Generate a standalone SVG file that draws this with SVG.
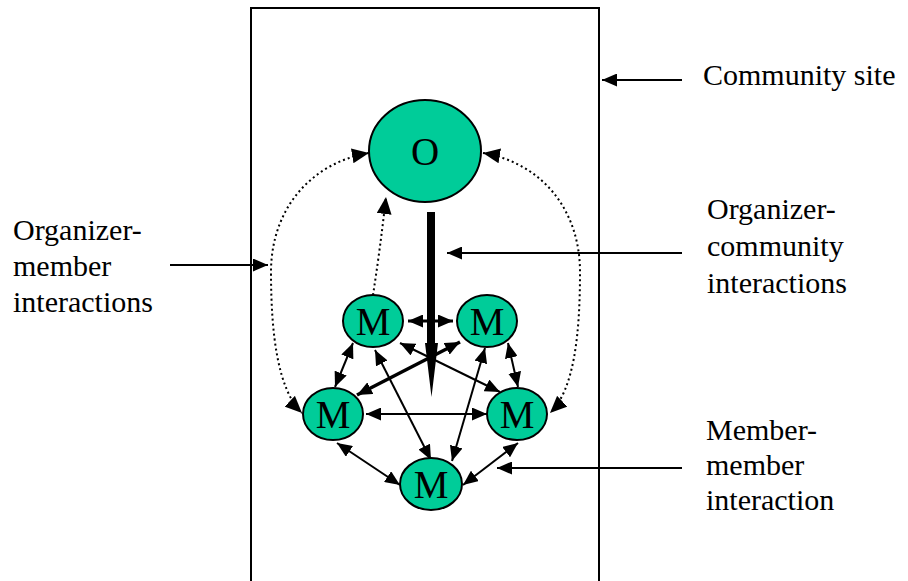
<svg xmlns="http://www.w3.org/2000/svg" width="908" height="581" viewBox="0 0 908 581">
<style>
.lbl{font-family:"Liberation Serif","Times New Roman",serif;font-size:30px;fill:#000}
.nt{font-family:"Liberation Serif","Times New Roman",serif;font-size:39px;fill:#000;text-anchor:middle}
.node{fill:#00CC99;stroke:#000;stroke-width:2}
.ln{stroke:#000;stroke-width:2;fill:none}
.dot{stroke:#000;stroke-width:2;fill:none;stroke-dasharray:2 3}
.dbl{marker-start:url(#ah);marker-end:url(#ah)}
</style>
<defs>
<marker id="ah" markerUnits="userSpaceOnUse" markerWidth="15" markerHeight="13" viewBox="0 0 15 13" refX="15" refY="6.5" orient="auto-start-reverse"><path d="M0,0 L15,6.5 L0,13 z" fill="#000"/></marker>
<marker id="dh" markerUnits="userSpaceOnUse" markerWidth="17" markerHeight="15" viewBox="0 0 17 15" refX="17" refY="7.5" orient="auto-start-reverse"><path d="M0,0 L17,7.5 L0,15 z" fill="#000"/></marker>
</defs>
<rect x="251" y="8" width="348" height="600" fill="none" stroke="#000" stroke-width="2"/>
<g id="connectors">
<path class="dot" d="M369,153 C310,163 271,210 271,272 C271,335 278,390 302,413" marker-start="url(#dh)" marker-end="url(#dh)"/>
<path class="dot" d="M483,153 C542,163 580,210 580,272 C580,335 574,390 550,413" marker-start="url(#dh)" marker-end="url(#dh)"/>
<path class="dot" d="M373,295 Q380,250 386,197" marker-end="url(#dh)"/>
<line class="ln dbl" x1="408" y1="321" x2="453" y2="321" style="stroke-width:3"/>
<line class="ln dbl" x1="353" y1="343" x2="335" y2="387"/>
<line class="ln dbl" x1="508" y1="343" x2="518" y2="387"/>
<line class="ln dbl" x1="337" y1="443" x2="400" y2="485"/>
<line class="ln dbl" x1="518" y1="443" x2="463" y2="485"/>
<line class="ln dbl" x1="366" y1="414" x2="487" y2="414"/>
<line class="ln dbl" x1="375" y1="350" x2="431" y2="460"/>
<line class="ln dbl" x1="485" y1="348" x2="452" y2="461"/>
<line class="ln dbl" x1="400" y1="343" x2="500" y2="392"/>
<line class="ln dbl" x1="357" y1="395" x2="460" y2="342" style="stroke-width:3.5"/>
<path d="M427,212 L435,212 L435,343 L438,343 L431.5,397 L425,343 L427,343 z" fill="#000"/>
<line class="ln" x1="682" y1="80" x2="602" y2="80" marker-end="url(#ah)"/>
<line class="ln" x1="170" y1="265" x2="268" y2="265" marker-end="url(#ah)"/>
<line class="ln" x1="682" y1="253" x2="447" y2="253" marker-end="url(#ah)"/>
<line class="ln" x1="682" y1="468" x2="497" y2="468" marker-end="url(#ah)"/>
</g>
<g id="O"><ellipse class="node" cx="425" cy="151" rx="56" ry="51"/><text class="nt" x="425" y="165">O</text></g>
<g id="M1"><ellipse class="node" cx="373" cy="321" rx="30" ry="26"/><text class="nt" x="373" y="335">M</text></g>
<g id="M2"><ellipse class="node" cx="487" cy="321" rx="30" ry="26"/><text class="nt" x="487" y="335">M</text></g>
<g id="M3"><ellipse class="node" cx="333" cy="414" rx="30" ry="26"/><text class="nt" x="333" y="428">M</text></g>
<g id="M4"><ellipse class="node" cx="517" cy="414" rx="30" ry="26"/><text class="nt" x="517" y="428">M</text></g>
<g id="M5"><ellipse class="node" cx="431" cy="484" rx="31" ry="26"/><text class="nt" x="431" y="498">M</text></g>
<g id="label-site"><text class="lbl" x="703" y="85">Community site</text></g>
<g id="label-om"><text class="lbl" x="13" y="240">Organizer-</text><text class="lbl" x="13" y="276">member</text><text class="lbl" x="13" y="312">interactions</text></g>
<g id="label-oc"><text class="lbl" x="707" y="219">Organizer-</text><text class="lbl" x="707" y="256">community</text><text class="lbl" x="707" y="293">interactions</text></g>
<g id="label-mm"><text class="lbl" x="706" y="440">Member-</text><text class="lbl" x="706" y="475">member</text><text class="lbl" x="706" y="510">interaction</text></g>
</svg>
